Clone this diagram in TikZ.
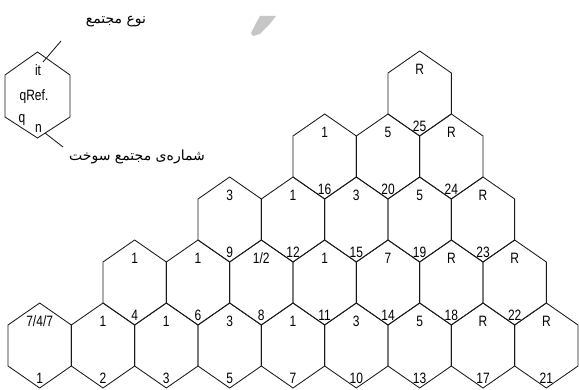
\documentclass[tikz,border=0pt]{standalone}
\usepackage{fontspec}
\setmainfont{Liberation Sans}
\newfontfamily\narrowfont[FakeStretch=0.8]{Liberation Sans}
\newfontfamily\arabicfont[Script=Arabic]{DejaVu Sans}
\TeXXeTstate=1
\tikzset{
  hexline/.style={line width=0.85pt, draw=black!90},
  lab/.style={inner sep=0pt, font=\narrowfont\fontsize{15}{15}\selectfont, text height=10.7pt, text depth=0pt},
  arab/.style={inner sep=0pt, font=\arabicfont\fontsize{14}{16}\selectfont},
  leader/.style={line width=0.85pt, draw=black!90},
  pics/hexcell/.style 2 args={code={
    \draw[hexline] (0,-42.5) -- (31.67,-20.5) -- (31.67,20.5) -- (0,42.5)
      -- (-31.67,20.5) -- (-31.67,-20.5) -- cycle;
    \node[lab] (-t) at (0,-24.5) {#1};
    \node[lab] (-n) at (0,33) {#2};
  }}
}
\begin{document}
\begin{tikzpicture}[x=1pt,y=-1pt]
\useasboundingbox (0,0) rectangle (579,390);
% faint watermark fragment
\fill[gray!45] (251,33) -- (255,25) -- (260,16) -- (276,16) -- (269,25) -- (260,34) -- (253,36) -- cycle;
% row 0
\pic (a1) at (39.67,345.5) {hexcell={7/4/7}{1}};
\pic (a2) at (103.00,345.5) {hexcell={1}{2}};
\pic (a3) at (166.33,345.5) {hexcell={1}{3}};
\pic (a5) at (229.67,345.5) {hexcell={3}{5}};
\pic (a7) at (293.00,345.5) {hexcell={1}{7}};
\pic (a10) at (356.33,345.5) {hexcell={3}{10}};
\pic (a13) at (419.67,345.5) {hexcell={5}{13}};
\pic (a17) at (483.00,345.5) {hexcell={R}{17}};
\pic (a21) at (546.33,345.5) {hexcell={R}{21}};
% row 1
\pic (b4) at (134.67,282.5) {hexcell={1}{4}};
\pic (b6) at (198.00,282.5) {hexcell={1}{6}};
\pic (b8) at (261.33,282.5) {hexcell={1/2}{8}};
\pic (b11) at (324.67,282.5) {hexcell={1}{11}};
\pic (b14) at (388.00,282.5) {hexcell={7}{14}};
\pic (b18) at (451.33,282.5) {hexcell={R}{18}};
\pic (b22) at (514.67,282.5) {hexcell={R}{22}};
% row 2
\pic (c9) at (229.67,219.5) {hexcell={3}{9}};
\pic (c12) at (293.00,219.5) {hexcell={1}{12}};
\pic (c15) at (356.33,219.5) {hexcell={3}{15}};
\pic (c19) at (419.67,219.5) {hexcell={5}{19}};
\pic (c23) at (483.00,219.5) {hexcell={R}{23}};
% row 3
\pic (d16) at (324.67,156.5) {hexcell={1}{16}};
\pic (d20) at (388.00,156.5) {hexcell={5}{20}};
\pic (d24) at (451.33,156.5) {hexcell={R}{24}};
% row 4
\pic (e25) at (419.67,93.5) {hexcell={R}{25}};
% legend hexagon
\draw[hexline] (37.5,52) -- (70,75) -- (70,117) -- (37.5,138) -- (5,117) -- (5,75) -- cycle;
\node[lab] (lit) at (38,70) {it};
\node[lab] (lref) at (34,94.8) {qRef.};
\node[lab] (lq) at (22,116.8) {q};
\node[lab] (ln) at (38.5,126.8) {n};
% leaders and captions
\coordinate (u1) at (43,62);
\coordinate (u2) at (61,41);
\coordinate (w1) at (45,133);
\coordinate (w2) at (63,147);
\draw[leader] (u1) -- (u2);
\draw[leader] (w1) -- (w2);
\node[arab] (cap1) at (116,22) {\beginR نوع مجتمع\endR};
\node[arab] (cap2) at (137,157) {\beginR شماره‌ی مجتمع سوخت\endR};
\end{tikzpicture}
\end{document}
